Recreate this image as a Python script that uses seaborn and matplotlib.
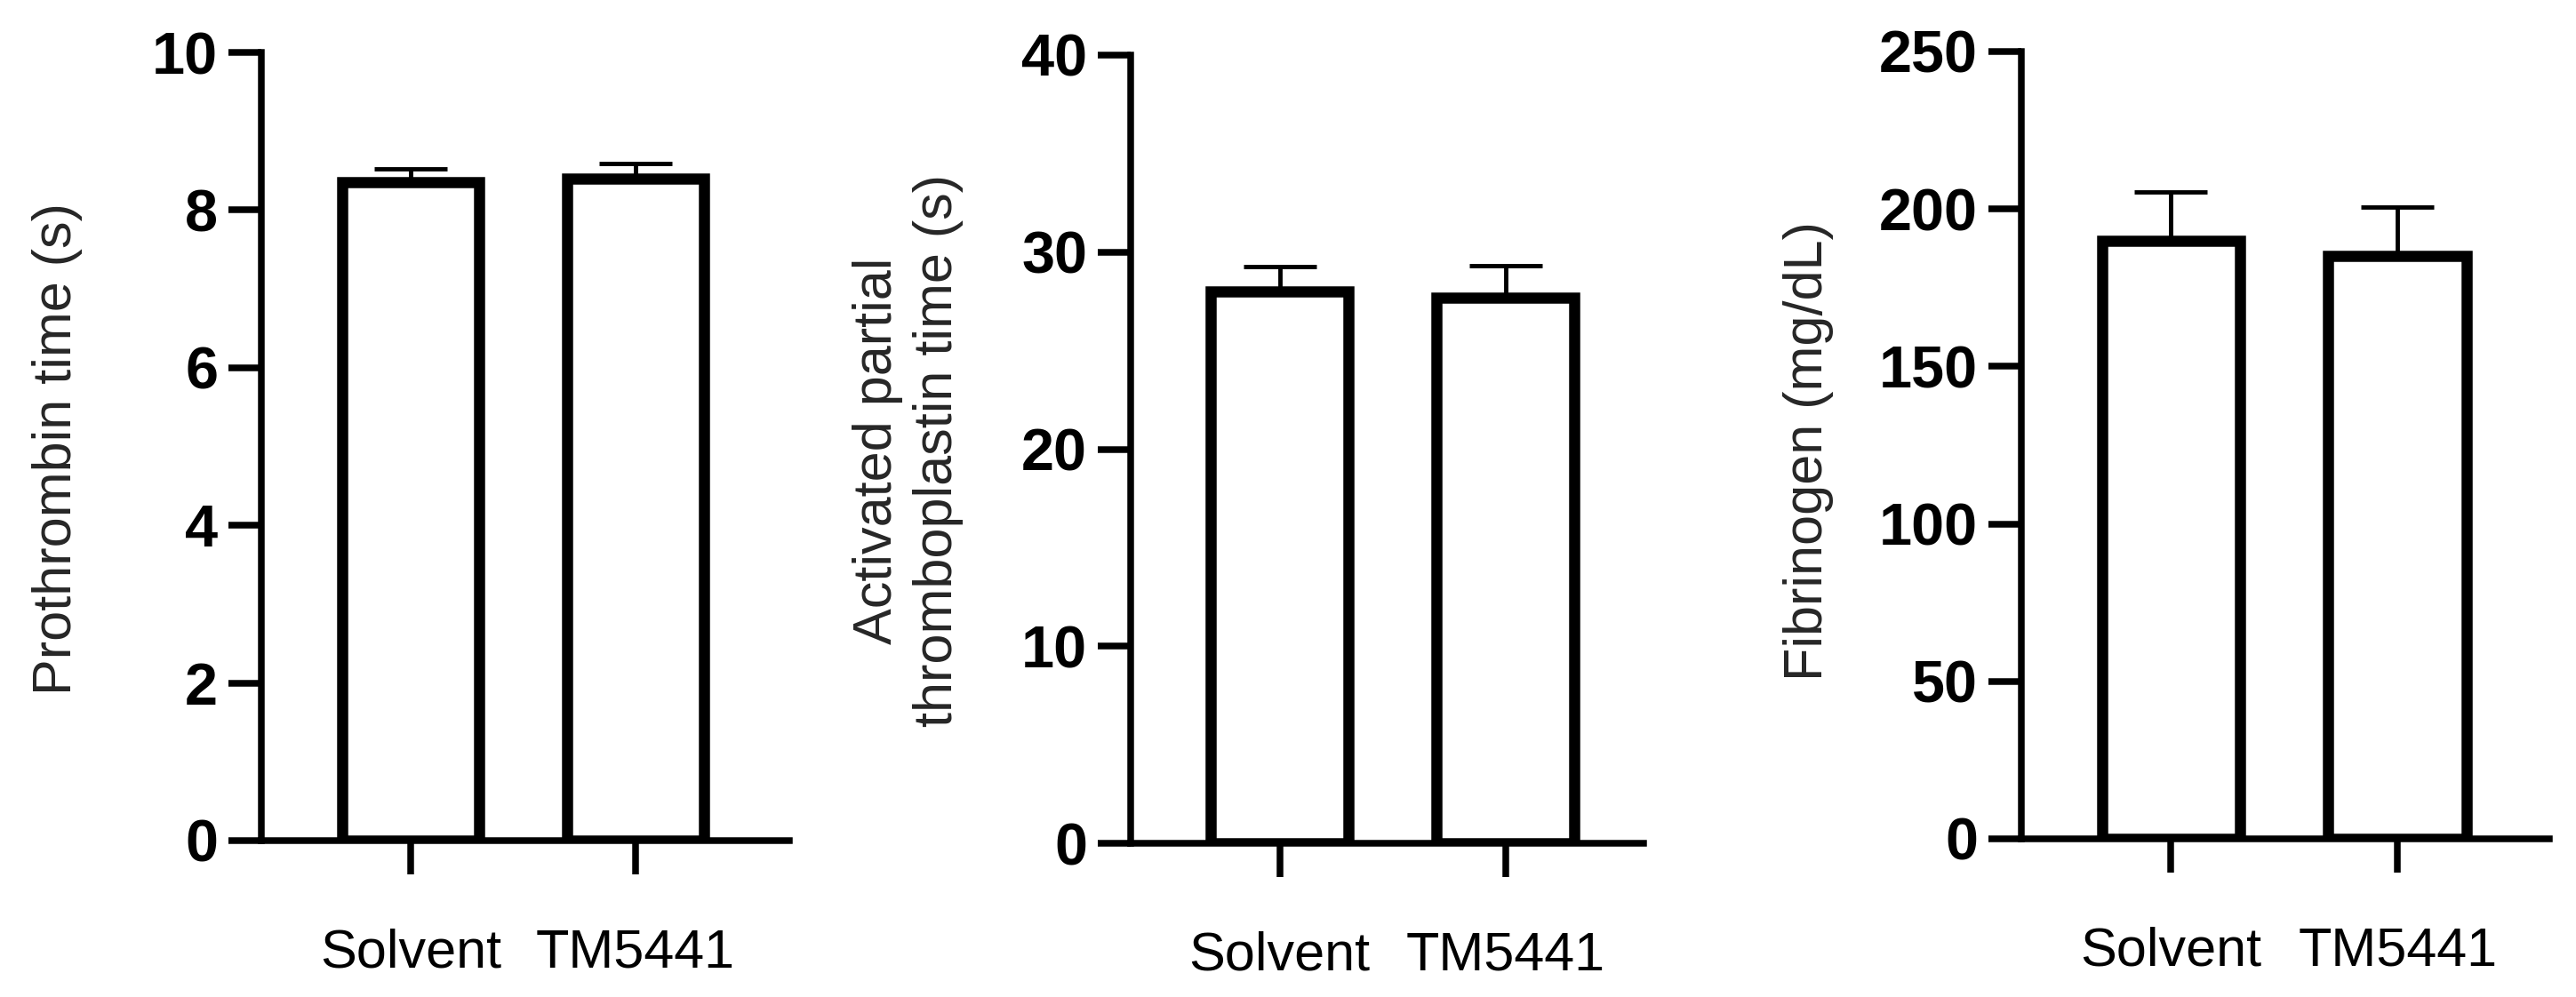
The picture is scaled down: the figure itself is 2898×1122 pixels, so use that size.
import matplotlib
matplotlib.use("Agg")
import matplotlib.pyplot as plt
import seaborn as sns
import numpy as np
import pandas as pd

# ---- data ----
categories = ["Solvent", "TM5441"]
pt_mean = [8.35, 8.40]
pt_sem = [0.17, 0.19]
aptt_mean = [28.0, 27.7]
aptt_sem = [1.28, 1.60]
fib_mean = [190.0, 185.0]
fib_sem = [15.5, 15.5]

ylabels = ["Prothrombin time (s)",
           "Activated partial\nthromboplastin time (s)",
           "Fibrinogen (mg/dL)"]
yticks_list = [[0, 2, 4, 6, 8, 10],
               [0, 10, 20, 30, 40],
               [0, 50, 100, 150, 200, 250]]
ylims = [(0, 10), (0, 40), (0, 250)]

sns.set_style("ticks")
plt.rcParams['font.family'] = ['Liberation Sans', 'DejaVu Sans']

fig = plt.figure(figsize=(28.98, 11.22), dpi=100)

# axes positions [left, bottom, width, height] in figure fraction
positions = [
    [294 / 2898, 1 - 946 / 1122, 594 / 2898, 887 / 1122],
    [1272 / 2898, 1 - 949 / 1122, 577 / 2898, 887 / 1122],
    [2274 / 2898, 1 - 944 / 1122, 594 / 2898, 886 / 1122],
]
xlims = [(-0.664, 1.684), (-0.66, 1.61), (-0.66, 1.67)]
label_x = [-0.338, -0.326, -0.355]
label_y = [0.497, 0.498, 0.493]

means = [pt_mean, aptt_mean, fib_mean]
sems = [pt_sem, aptt_sem, fib_sem]

spine_lw = 5.4
for i in range(3):
    ax = fig.add_axes(positions[i])
    df = pd.DataFrame({"group": categories, "value": means[i]})
    sns.barplot(data=df, x="group", y="value", ax=ax, color="white",
                edgecolor="black", linewidth=9, width=0.61,
                saturation=1, errorbar=None, zorder=3)
    xpos = np.arange(len(categories))
    ax.errorbar(xpos, means[i], yerr=[np.zeros(len(categories)), sems[i]],
                fmt="none", ecolor="black", elinewidth=3.5, capsize=29.5,
                capthick=3.5, zorder=2)
    ax.set_xlim(*xlims[i])
    ax.set_ylim(*ylims[i])
    ax.set_yticks(yticks_list[i])
    ax.set_yticklabels([str(t) for t in yticks_list[i]],
                       fontsize=48, fontweight="bold")
    ax.set_xticks(xpos)
    ax.set_xticklabels(categories, fontsize=44)
    ax.set_xlabel("")
    ax.set_ylabel(ylabels[i], fontsize=44, linespacing=1.25)
    ax.yaxis.set_label_coords(label_x[i], label_y[i])
    sns.despine(ax=ax)
    for s in ["left", "bottom"]:
        ax.spines[s].set_linewidth(spine_lw)
        ax.spines[s].set_color("black")
        ax.spines[s].set_zorder(5)
    ax.tick_params(axis="y", length=26.6, width=spine_lw, pad=8.6,
                   color="black", labelcolor="black", direction="out")
    ax.tick_params(axis="x", length=27, width=spine_lw, pad=44,
                   color="black", labelcolor="black", direction="out")
    ax.set_facecolor("white")

fig.savefig("out.png", dpi=100, facecolor="white")
